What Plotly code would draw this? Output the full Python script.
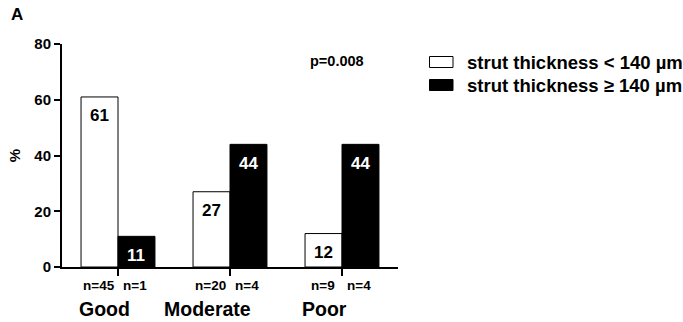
import plotly.graph_objects as go

# Strut thickness distribution by category (percent of patients)
categories = ["Good", "Moderate", "Poor"]
thin_pct = [61, 27, 12]        # strut thickness < 140 µm
thick_pct = [11, 44, 44]       # strut thickness ≥ 140 µm
thin_n = ["n=45", "n=20", "n=9"]
thick_n = ["n=1", "n=4", "n=4"]
y_ticks = [0, 20, 40, 60, 80]
series_names = ["strut thickness < 140 µm", "strut thickness ≥ 140 µm"]
p_text = "p=0.008"

FONT = "Liberation Sans, Arial, sans-serif"
xs = list(range(len(categories)))
half = 0.165  # offset of each bar centre from its category tick

# plot-area geometry in pixels, used to place the legend in paper units
L, R, T, B = 62, 398, 44, 267


def px_x(px):
    return (px - L) / (R - L)


def px_y(py):
    return (B - py) / (B - T)


fig = go.Figure()
fig.add_trace(go.Bar(x=xs, y=thin_pct, name=series_names[0],
                     marker=dict(color="white", line=dict(color="black", width=1)),
                     showlegend=False))
fig.add_trace(go.Bar(x=xs, y=thick_pct, name=series_names[1],
                     marker=dict(color="black", line=dict(color="black", width=1)),
                     showlegend=False))

ann = []
# value labels inside the top of each bar
for i, v in enumerate(thin_pct):
    ann.append(dict(x=i - half, y=v, text=str(v), showarrow=False, yshift=-19,
                    font=dict(size=17, color="black", family=FONT, weight="bold")))
for i, v in enumerate(thick_pct):
    ann.append(dict(x=i + half, y=v, text=str(v), showarrow=False, yshift=-19,
                    font=dict(size=17, color="white", family=FONT, weight="bold")))
# group sizes under the axis
for i in xs:
    ann.append(dict(x=i - half, y=0, text=thin_n[i], showarrow=False, yshift=-18,
                    xshift=-1, font=dict(size=13.5, color="black", family=FONT, weight="bold")))
    ann.append(dict(x=i + half, y=0, text=thick_n[i], showarrow=False, yshift=-18,
                    xshift=-1, font=dict(size=13.5, color="black", family=FONT, weight="bold")))
# category names, set slightly left of each tick
cat_shift = [-14, -23, -18]
for i, c in enumerate(categories):
    ann.append(dict(x=i, y=0, text=c, showarrow=False, yshift=-42, xshift=cat_shift[i],
                    font=dict(size=19.5, color="black", family=FONT, weight="bold")))
# panel letter, p-value
ann.append(dict(xref="paper", yref="paper", x=px_x(9), y=px_y(14), text="A",
                showarrow=False, xanchor="left", yanchor="middle",
                font=dict(size=17, color="black", family=FONT, weight="bold")))
ann.append(dict(x=1.955, y=73.9, text=p_text, showarrow=False, xanchor="center",
                yanchor="middle",
                font=dict(size=14.5, color="black", family=FONT, weight="bold")))

# hand-drawn legend to the right of the plot
shapes = []
leg_y = [62, 85]
leg_fill = ["white", "black"]
for k in range(2):
    y0 = leg_y[k]
    shapes.append(dict(type="rect", xref="paper", yref="paper",
                       x0=px_x(429.5), x1=px_x(453),
                       y0=px_y(y0 + 5.5), y1=px_y(y0 - 5.5),
                       line=dict(color="black", width=1), fillcolor=leg_fill[k]))
    ann.append(dict(xref="paper", yref="paper", x=px_x(465), y=px_y(y0),
                    text=series_names[k], showarrow=False, xanchor="left", yanchor="middle",
                    font=dict(size=18.5, color="black", family=FONT, weight="bold")))

fig.update_layout(
    width=683, height=322,
    margin=dict(l=L, r=683 - R, t=T, b=322 - B),
    paper_bgcolor="white", plot_bgcolor="white",
    barmode="group", bargap=0.34, bargroupgap=0,
    font=dict(family=FONT, color="black"),
    annotations=ann, shapes=shapes,
    xaxis=dict(range=[-0.5, 2.5], tickvals=xs, ticktext=["", "", ""],
               showline=True, linecolor="black", linewidth=2,
               ticks="outside", ticklen=7, tickwidth=2, tickcolor="black",
               showgrid=False, zeroline=False, fixedrange=True),
    yaxis=dict(range=[0, 80], tickvals=y_ticks,
               showline=True, linecolor="black", linewidth=2,
               ticks="outside", ticklen=6, tickwidth=2, tickcolor="black",
               tickfont=dict(size=15, family=FONT, weight="bold"),
               title=dict(text="%", standoff=10,
                          font=dict(size=15, family=FONT, weight="bold")),
               showgrid=False, zeroline=False, fixedrange=True),
)

fig.write_html("out.html")
